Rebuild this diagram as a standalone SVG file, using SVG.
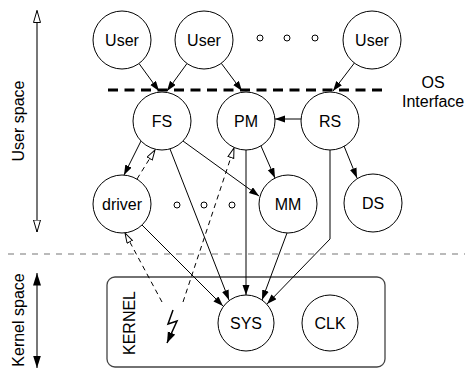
<svg xmlns="http://www.w3.org/2000/svg" width="465" height="369" viewBox="0 0 465 369">
<style>
text{font-family:"Liberation Sans",Arial,sans-serif;font-size:16px;fill:#000}
.n circle{fill:#fff;stroke:#000;stroke-width:1}
.n text{text-anchor:middle}
.e{fill:none;stroke:#000;stroke-width:1}
.f{marker-end:url(#fa)}
.d{stroke-dasharray:5 4;marker-end:url(#oa)}
.ax{fill:none;stroke:#777;stroke-width:2}
</style>
<defs>
<marker id="fa" markerUnits="userSpaceOnUse" markerWidth="11" markerHeight="8" refX="10" refY="3.5" orient="auto"><path d="M0,0 L10,3.5 L0,7 z" fill="#000"/></marker>
<marker id="oa" markerUnits="userSpaceOnUse" markerWidth="12" markerHeight="8" refX="10.5" refY="3.5" orient="auto"><path d="M0.5,0.5 L10.5,3.5 L0.5,6.5 z" fill="#fff" stroke="#000" stroke-width="1"/></marker>
<marker id="axo" markerUnits="userSpaceOnUse" markerWidth="14" markerHeight="9" refX="12.5" refY="4" orient="auto-start-reverse"><path d="M0.5,0.5 L12.5,4 L0.5,7.5 z" fill="#fff" stroke="#000" stroke-width="1"/></marker>
<marker id="axf" markerUnits="userSpaceOnUse" markerWidth="14" markerHeight="9" refX="12.5" refY="4" orient="auto-start-reverse"><path d="M0,0 L12.5,4 L0,8 z" fill="#000"/></marker>
<marker id="bolt" markerUnits="userSpaceOnUse" markerWidth="12" markerHeight="9" refX="11" refY="4" orient="auto"><path d="M0,0 L11,4 L0,8 z" fill="#000"/></marker>
</defs>

<g id="axes">
<line class="ax" x1="37" y1="10.5" x2="37" y2="232" marker-start="url(#axo)" marker-end="url(#axo)"/>
<line class="ax" x1="37" y1="273" x2="37" y2="368" marker-start="url(#axf)" marker-end="url(#axf)"/>
<text transform="translate(24,121) rotate(-90)" text-anchor="middle">User space</text>
<text transform="translate(24,320) rotate(-90)" text-anchor="middle">Kernel space</text>
</g>

<g id="boundaries">
<line x1="108" y1="90" x2="385" y2="90" stroke="#000" stroke-width="3" stroke-dasharray="10 6.5"/>
<line x1="8" y1="254" x2="465" y2="254" stroke="#777" stroke-width="1.2" stroke-dasharray="6 6"/>
<text x="433" y="88" text-anchor="middle">OS</text>
<text x="402" y="107">Interface</text>
</g>

<g id="kernel">
<rect x="107" y="277" width="278" height="90" rx="8" fill="none" stroke="#444" stroke-width="1.3"/>
<text transform="translate(135,323) rotate(-90)" text-anchor="middle">KERNEL</text>
</g>

<g id="dots" fill="#fff" stroke="#000" stroke-width="1">
<circle cx="260" cy="38" r="3"/><circle cx="287" cy="38" r="3"/><circle cx="315" cy="38" r="3"/>
<circle cx="177" cy="205" r="3"/><circle cx="204" cy="205" r="3"/><circle cx="232" cy="205" r="3"/>
</g>

<g id="connectors">
<line class="e f" x1="139" y1="63.5" x2="159" y2="91"/>
<line class="e f" x1="187" y1="63.5" x2="167" y2="91"/>
<line class="e f" x1="221.3" y1="63.3" x2="242" y2="91"/>
<line class="e f" x1="354.4" y1="63" x2="333" y2="91"/>
<line class="e f" x1="301" y1="119" x2="275" y2="119"/>
<line class="e f" x1="141" y1="141" x2="124" y2="175"/>
<line class="e d" x1="137" y1="179" x2="155" y2="150"/>
<line class="e f" x1="183" y1="141" x2="259" y2="196"/>
<line class="e f" x1="170" y1="149" x2="229" y2="300"/>
<line class="e f" x1="246" y1="150" x2="246" y2="295"/>
<line class="e f" x1="261" y1="146" x2="275" y2="178"/>
<line class="e f" x1="142" y1="225" x2="223" y2="306"/>
<line class="e f" x1="287" y1="233" x2="262" y2="300"/>
<polyline class="e f" points="330,150 330,239 267,304"/>
<line class="e f" x1="344" y1="146" x2="357" y2="178"/>
<line class="e d" x1="162" y1="302" x2="125" y2="233"/>
<line class="e d" x1="183" y1="302" x2="234" y2="148"/>
<polyline points="173,310 168,324 177,321 167,343" fill="none" stroke="#000" stroke-width="1.5" marker-end="url(#bolt)"/>
</g>

<g id="user1" class="n"><circle cx="122" cy="40" r="29"/><text x="122" y="46">User</text></g>
<g id="user2" class="n"><circle cx="204" cy="40" r="29"/><text x="204" y="46">User</text></g>
<g id="user3" class="n"><circle cx="372" cy="40" r="29"/><text x="372" y="46">User</text></g>
<g id="fs" class="n"><circle cx="162" cy="121" r="29"/><text x="162" y="127">FS</text></g>
<g id="pm" class="n"><circle cx="246" cy="121" r="29"/><text x="246" y="127">PM</text></g>
<g id="rs" class="n"><circle cx="330" cy="121" r="29"/><text x="330" y="127">RS</text></g>
<g id="driver" class="n"><circle cx="122" cy="204" r="29"/><text x="122" y="210">driver</text></g>
<g id="mm" class="n"><circle cx="288" cy="204" r="29"/><text x="288" y="210">MM</text></g>
<g id="ds" class="n"><circle cx="373" cy="203" r="29"/><text x="373" y="209">DS</text></g>
<g id="sys" class="n"><circle cx="246" cy="323" r="28"/><text x="246" y="329">SYS</text></g>
<g id="clk" class="n"><circle cx="330" cy="323" r="28"/><text x="330" y="329">CLK</text></g>
</svg>
